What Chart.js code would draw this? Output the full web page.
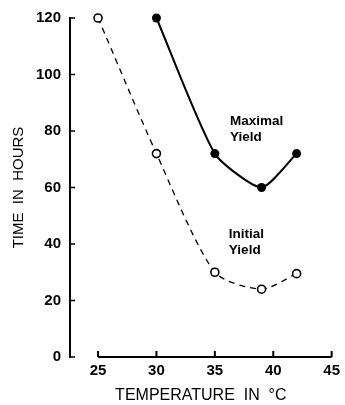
<!DOCTYPE html>
<html>
<head>
<meta charset="utf-8">
<script src="https://cdn.jsdelivr.net/npm/chart.js@4"></script>
<style>
  html, body { margin: 0; padding: 0; background: #fff; }
  #wrap { width: 345px; height: 405px; }
</style>
</head>
<body>
<div id="wrap"><canvas id="tempChart"></canvas></div>
<script>
// temperatures (°C) and times (hours)
const initialTemps = [25, 30, 35, 39, 42];
const initialHours = [120, 72, 30, 24, 29.5];
const maximalTemps = [30, 35, 39, 42];
const maximalHours = [120, 72, 60, 72];
const xTicks = [25, 30, 35, 40, 45];
const yTicks = [0, 20, 40, 60, 80, 100, 120];

const toPoints = (xs, ys) => xs.map((x, i) => ({ x: x, y: ys[i] }));

// curve labels, placed in data units
const curveLabels = [
    { lines: ['Maximal', 'Yield'], x: 36.3, y: 83.5 },
    { lines: ['Initial', 'Yield'], x: 36.2, y: 43.5 }
];

// axis lines + inward tick marks, like the printed figure
const axisPlugin = {
    id: 'axisPlugin',
    afterDraw(chart) {
        const { ctx, chartArea, scales } = chart;
        const x = scales.x, y = scales.y;
        ctx.save();
        ctx.strokeStyle = '#000';
        ctx.lineWidth = 2;
        // x axis line from 25 to 45 only
        const bottom = chartArea.bottom;
        ctx.beginPath();
        ctx.moveTo(x.getPixelForValue(xTicks[0]), bottom);
        ctx.lineTo(x.getPixelForValue(xTicks[xTicks.length - 1]), bottom);
        ctx.stroke();
        xTicks.forEach(t => {
            const px = x.getPixelForValue(t);
            ctx.beginPath();
            ctx.moveTo(px, bottom);
            ctx.lineTo(px, bottom - 6);
            ctx.stroke();
        });
        // y axis
        const left = chartArea.left;
        ctx.beginPath();
        ctx.moveTo(left, y.getPixelForValue(yTicks[yTicks.length - 1]) - 1);
        ctx.lineTo(left, y.getPixelForValue(0) + 1);
        ctx.stroke();
        ctx.lineWidth = 1.5;
        yTicks.forEach(t => {
            const py = y.getPixelForValue(t);
            ctx.beginPath();
            ctx.moveTo(left, py);
            ctx.lineTo(left + 5, py);
            ctx.stroke();
        });
        // curve labels
        ctx.fillStyle = '#000';
        ctx.font = 'bold 13.5px "Liberation Sans"';
        ctx.textAlign = 'left';
        ctx.textBaseline = 'middle';
        curveLabels.forEach(l => {
            const px = x.getPixelForValue(l.x);
            const py = y.getPixelForValue(l.y);
            l.lines.forEach((s, i) => ctx.fillText(s, px, py + i * 16.5));
        });
        ctx.restore();
    }
};

const ctx = document.getElementById('tempChart').getContext('2d');

new Chart(ctx, {
    type: 'scatter',
    data: {
        datasets: [
            {
                label: 'Maximal Yield',
                data: toPoints(maximalTemps, maximalHours),
                showLine: true,
                borderColor: '#000',
                borderWidth: 2,
                backgroundColor: '#000',
                pointBackgroundColor: '#000',
                pointRadius: 4.5,
                pointBorderWidth: 0,
                tension: 0.2,
                clip: false
            },
            {
                label: 'Initial Yield',
                data: toPoints(initialTemps, initialHours),
                showLine: true,
                borderColor: '#000',
                borderWidth: 1.3,
                borderDash: [6, 5],
                pointBackgroundColor: '#fff',
                pointBorderColor: '#000',
                pointBorderWidth: 1.6,
                pointRadius: 4,
                tension: 0.25,
                clip: false
            }
        ]
    },
    options: {
        responsive: true,
        maintainAspectRatio: false,
        animation: false,
        layout: { padding: { top: 14, right: 12, left: 0, bottom: 0 } },
        plugins: {
            legend: { display: false },
            tooltip: { enabled: false }
        },
        scales: {
            x: {
                type: 'linear',
                min: 22.6,
                max: 45,
                afterBuildTicks: s => { s.ticks = xTicks.map(v => ({ value: v })); },
                afterFit: s => { s.height = 48; },
                grid: { display: false, drawTicks: false },
                border: { display: false },
                ticks: {
                    color: '#000',
                    padding: 5,
                    font: { family: 'Liberation Sans', size: 15, weight: 'bold' }
                },
                title: {
                    display: true,
                    text: 'TEMPERATURE  IN  °C',
                    color: '#000',
                    padding: { top: 3, bottom: 0 },
                    font: { family: 'Liberation Sans', size: 16 }
                }
            },
            y: {
                min: 0,
                max: 120,
                afterBuildTicks: s => { s.ticks = yTicks.map(v => ({ value: v })); },
                afterFit: s => { s.width = 70; },
                grid: { display: false, drawTicks: false },
                border: { display: false },
                ticks: {
                    color: '#000',
                    padding: 9,
                    font: { family: 'Liberation Sans', size: 15, weight: 'bold' }
                },
                title: {
                    display: true,
                    text: 'TIME  IN  HOURS',
                    color: '#000',
                    padding: { top: 10, bottom: 0 },
                    font: { family: 'Liberation Sans', size: 15 }
                }
            }
        }
    },
    plugins: [axisPlugin]
});
</script>
</body>
</html>
